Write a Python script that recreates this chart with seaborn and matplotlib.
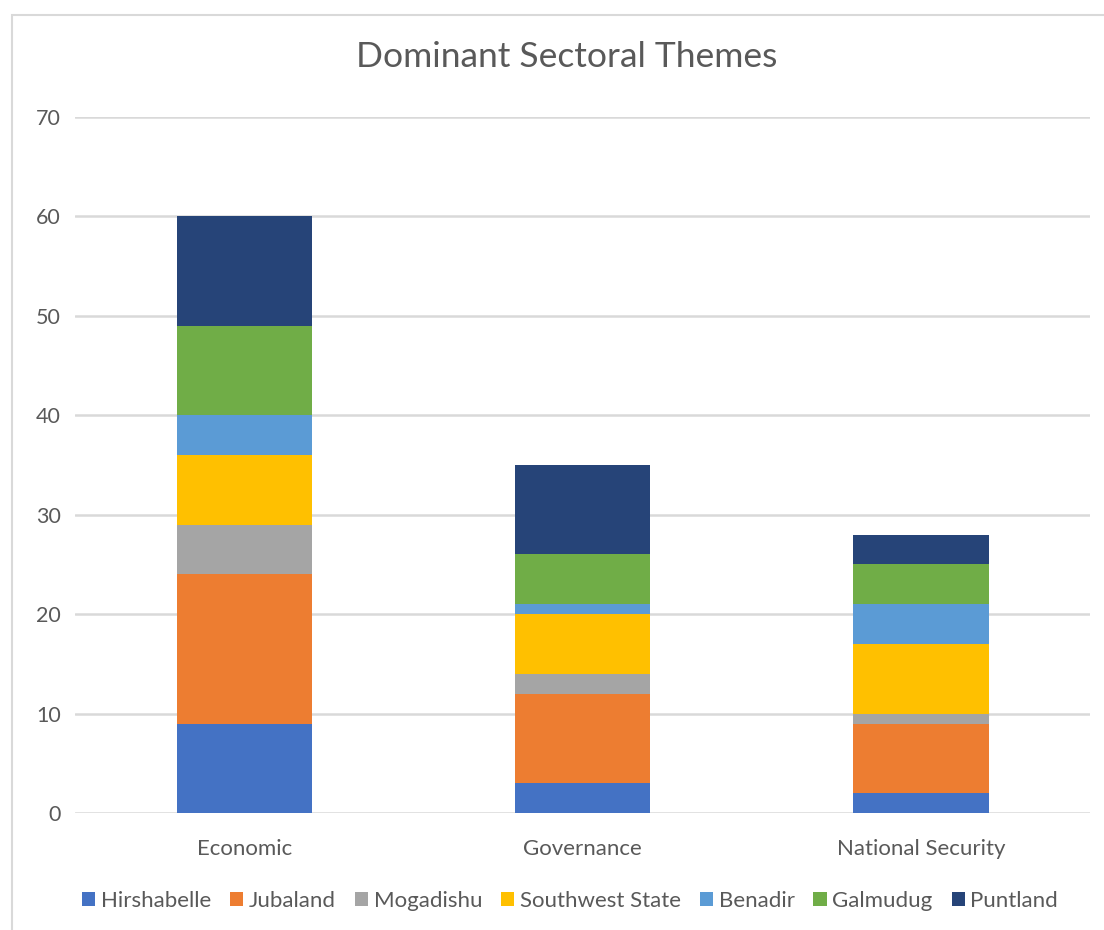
import matplotlib
matplotlib.use("Agg")
import matplotlib.pyplot as plt
import seaborn as sns
import pandas as pd
import numpy as np
from matplotlib.patches import Rectangle, Patch

categories = ["Economic", "Governance", "National Security"]
series_names = ["Hirshabelle", "Jubaland", "Mogadishu", "Southwest State", "Benadir", "Galmudug", "Puntland"]
hirshabelle = [9, 3, 2]
jubaland = [15, 9, 7]
mogadishu = [5, 2, 1]
southwest = [7, 6, 7]
benadir = [4, 1, 4]
galmudug = [9, 5, 4]
puntland = [11, 9, 3]
colors = ["#4472c4", "#ed7d31", "#a5a5a5", "#ffc000", "#5b9bd5", "#70ad47", "#264478"]
yticks = [0, 10, 20, 30, 40, 50, 60, 70]

series_values = [hirshabelle, jubaland, mogadishu, southwest, benadir, galmudug, puntland]

sns.set_theme(style="white")
plt.rcParams['font.family'] = ['Lato', 'DejaVu Sans']

fig = plt.figure(figsize=(11.04, 9.3), dpi=100)
ax = fig.add_axes([75/1104, 1-813/930, (1090-75)/1104, (813-117)/930])

bottom = np.zeros(len(categories))
for name, vals, col in zip(series_names, series_values, colors):
    df = pd.DataFrame({"cat": categories, "val": vals})
    sns.barplot(data=df, x="cat", y="val", color=col, width=0.4, bottom=bottom,
                ax=ax, saturation=1, linewidth=0)
    bottom = bottom + np.array(vals)

ax.set_ylim(0, 70)
ax.set_xlim(-0.5, 2.5)
ax.set_yticks(yticks)
ax.yaxis.grid(True, color="#d9d9d9", linewidth=1.8)
ax.set_axisbelow(True)
for s in ax.spines.values():
    s.set_visible(False)
ax.set_xlabel("")
ax.set_ylabel("")
ax.tick_params(axis="both", length=0, colors="#595959")
ax.tick_params(axis="y", pad=10, labelsize=15.5)
ax.tick_params(axis="x", pad=19, labelsize=16)
if ax.get_legend() is not None:
    ax.get_legend().remove()

fig.text(567/1104, 1-57/930, "Dominant Sectoral Themes", ha="center", va="center",
         fontsize=25.5, color="#595959")

handles = [Patch(facecolor=c, edgecolor="none") for c in colors]
fig.legend(handles, series_names, loc="center", bbox_to_anchor=(570/1104, 1-901/930),
           ncol=7, frameon=False, fontsize=16, handlelength=0.6, handleheight=0.6,
           handletextpad=0.25, columnspacing=0.85, labelcolor="#595959")

fig.patches.append(Rectangle((12/1104, -0.1), 1.2, 1 - 15/930 + 0.1, transform=fig.transFigure,
                             fill=False, edgecolor="#d9d9d9", linewidth=1.5))

fig.savefig("out.png", dpi=100)
